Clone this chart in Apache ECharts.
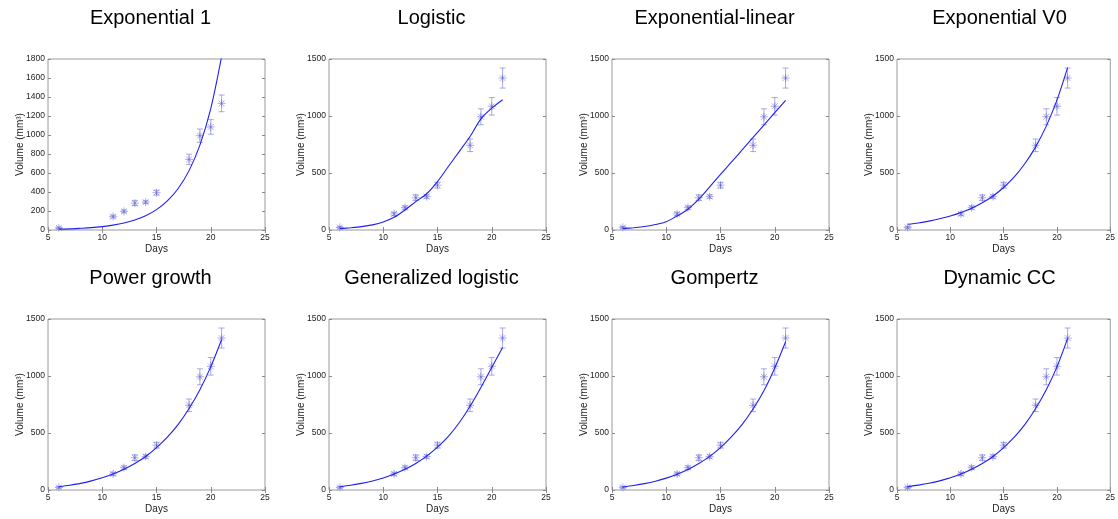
<!DOCTYPE html>
<html>
<head>
<meta charset="utf-8">
<title>Tumor growth model fits</title>
<script src="https://cdn.jsdelivr.net/npm/echarts@6/dist/echarts.min.js"></script>
<style>
html, body { margin: 0; padding: 0; background: #fff; }
#chart { width: 1118px; height: 519px; }
</style>
</head>
<body>
<div id="chart"></div>
<script>
// measured volumes (mean and error) per day
const days = [6, 11, 12, 13, 14, 15, 18, 19, 20, 21]
const volume = [23, 141, 196, 283, 293, 393, 743, 993, 1085, 1333]
const volumeErr = [8, 15, 15, 25, 15, 25, 55, 70, 77, 88]

// model curves at whole days
const fitDays = [6, 7, 8, 9, 10, 11, 12, 13, 14, 15, 16, 17, 18, 19, 20, 21]
const fitExp1 = [9, 12, 18, 25, 36, 51, 73, 105, 150, 214, 306, 437, 625, 893, 1277, 1825]
const fitLogistic = [12, 20, 30, 45, 70, 111, 176, 249, 318, 425, 557, 688, 820, 975, 1069, 1143]
const fitExpLinear = [12, 20, 30, 48, 73, 123, 182, 270, 378, 487, 595, 703, 812, 920, 1029, 1137]
const fitExpV0 = [50, 62, 78, 98, 122, 153, 191, 239, 298, 373, 466, 583, 729, 911, 1139, 1424]
const fitPower = [29, 42, 58, 80, 107, 140, 182, 232, 294, 372, 463, 575, 715, 880, 1080, 1320]
const fitGenLogistic = [29, 42, 58, 79, 106, 140, 182, 233, 297, 376, 470, 590, 735, 900, 1075, 1250]
const fitGompertz = [27, 40, 56, 77, 104, 138, 180, 232, 295, 372, 465, 575, 710, 870, 1070, 1300]
const fitDynamicCC = [30, 43, 59, 80, 107, 140, 182, 232, 294, 372, 463, 575, 715, 880, 1080, 1330]

const titles = ['Exponential 1', 'Logistic', 'Exponential-linear', 'Exponential V0',
  'Power growth', 'Generalized logistic', 'Gompertz', 'Dynamic CC']
const fits = [fitExp1, fitLogistic, fitExpLinear, fitExpV0,
  fitPower, fitGenLogistic, fitGompertz, fitDynamicCC]
const yMax = [1800, 1500, 1500, 1500, 1500, 1500, 1500, 1500]
const yStep = [200, 500, 500, 500, 500, 500, 500, 500]

const colLeft = [48, 329, 612, 897]
const rowTop = [59, 319]
const plotW = 217
const plotH = 171
const font = 'Liberation Sans, Helvetica, Arial, sans-serif'
const pointColor = 'rgba(100, 100, 215, 0.55)'

function renderPoint(params, api) {
  const x = api.value(0)
  const y = api.value(1)
  const err = api.value(2)
  const c = api.coord([x, y])
  const hi = api.coord([x, y + err])
  const lo = api.coord([x, y - err])
  const cap = 3
  const r = 4
  const d = r * 0.72
  const st = { stroke: pointColor, lineWidth: 1 }
  const seg = (x1, y1, x2, y2) => ({ type: 'line', shape: { x1, y1, x2, y2 }, style: st })
  return {
    type: 'group',
    children: [
      seg(hi[0], hi[1], lo[0], lo[1]),
      seg(hi[0] - cap, hi[1], hi[0] + cap, hi[1]),
      seg(lo[0] - cap, lo[1], lo[0] + cap, lo[1]),
      seg(c[0] - r, c[1], c[0] + r, c[1]),
      seg(c[0], c[1] - r, c[0], c[1] + r),
      seg(c[0] - d, c[1] - d, c[0] + d, c[1] + d),
      seg(c[0] - d, c[1] + d, c[0] + d, c[1] - d)
    ]
  }
}

const grid = []
const xAxis = []
const yAxis = []
const series = []
const graphic = []
const pointData = days.map((d, i) => [d, volume[i], volumeErr[i]])
const plain = v => String(v)

titles.forEach((name, i) => {
  const left = colLeft[i % 4]
  const top = rowTop[Math.floor(i / 4)]
  grid.push({
    left: left, top: top, width: plotW, height: plotH,
    show: true, borderColor: '#9a9a9a', borderWidth: 1, backgroundColor: '#fff'
  })
  const tick = { show: true, inside: true, length: 3, lineStyle: { color: '#8a8a8a' } }
  const label = { color: '#222', fontSize: 8.5, fontFamily: font, formatter: plain }
  xAxis.push({
    type: 'value', gridIndex: i, min: 5, max: 25, interval: 5,
    axisLine: { show: false }, splitLine: { show: false }, axisTick: tick,
    axisLabel: Object.assign({ margin: 3 }, label),
    name: 'Days', nameLocation: 'middle', nameGap: 14,
    nameTextStyle: { color: '#222', fontSize: 10, fontFamily: font }
  })
  xAxis.push({
    type: 'value', gridIndex: i, min: 5, max: 25, interval: 5, position: 'top',
    axisLine: { show: false }, splitLine: { show: false }, axisTick: tick,
    axisLabel: { show: false }
  })
  yAxis.push({
    type: 'value', gridIndex: i, min: 0, max: yMax[i], interval: yStep[i],
    axisLine: { show: false }, splitLine: { show: false }, axisTick: tick,
    axisLabel: Object.assign({ margin: 3 }, label),
    name: 'Volume (mm³)', nameLocation: 'middle', nameGap: 23, nameMoveOverlap: false,
    nameTextStyle: { color: '#222', fontSize: 10, fontFamily: font }
  })
  yAxis.push({
    type: 'value', gridIndex: i, min: 0, max: yMax[i], interval: yStep[i], position: 'right',
    axisLine: { show: false }, splitLine: { show: false }, axisTick: tick,
    axisLabel: { show: false }
  })
  series.push({
    type: 'custom', xAxisIndex: 2 * i, yAxisIndex: 2 * i,
    renderItem: renderPoint, data: pointData, z: 2
  })
  series.push({
    type: 'line', xAxisIndex: 2 * i, yAxisIndex: 2 * i,
    data: fitDays.map((d, k) => [d, fits[i][k]]),
    showSymbol: false, smooth: 0.3, clip: true, z: 3,
    lineStyle: { color: '#2020f0', width: 1.1 }
  })
  graphic.push({
    type: 'text', x: left + plotW / 2 - 6, y: top - 51,
    style: {
      text: name, align: 'center', verticalAlign: 'top', fill: '#000',
      font: '20px ' + font
    }
  })
})

const chart = echarts.init(document.getElementById('chart'))
chart.setOption({
  animation: false,
  backgroundColor: '#fff',
  grid: grid,
  xAxis: xAxis,
  yAxis: yAxis,
  series: series,
  graphic: graphic
})
</script>
</body>
</html>
